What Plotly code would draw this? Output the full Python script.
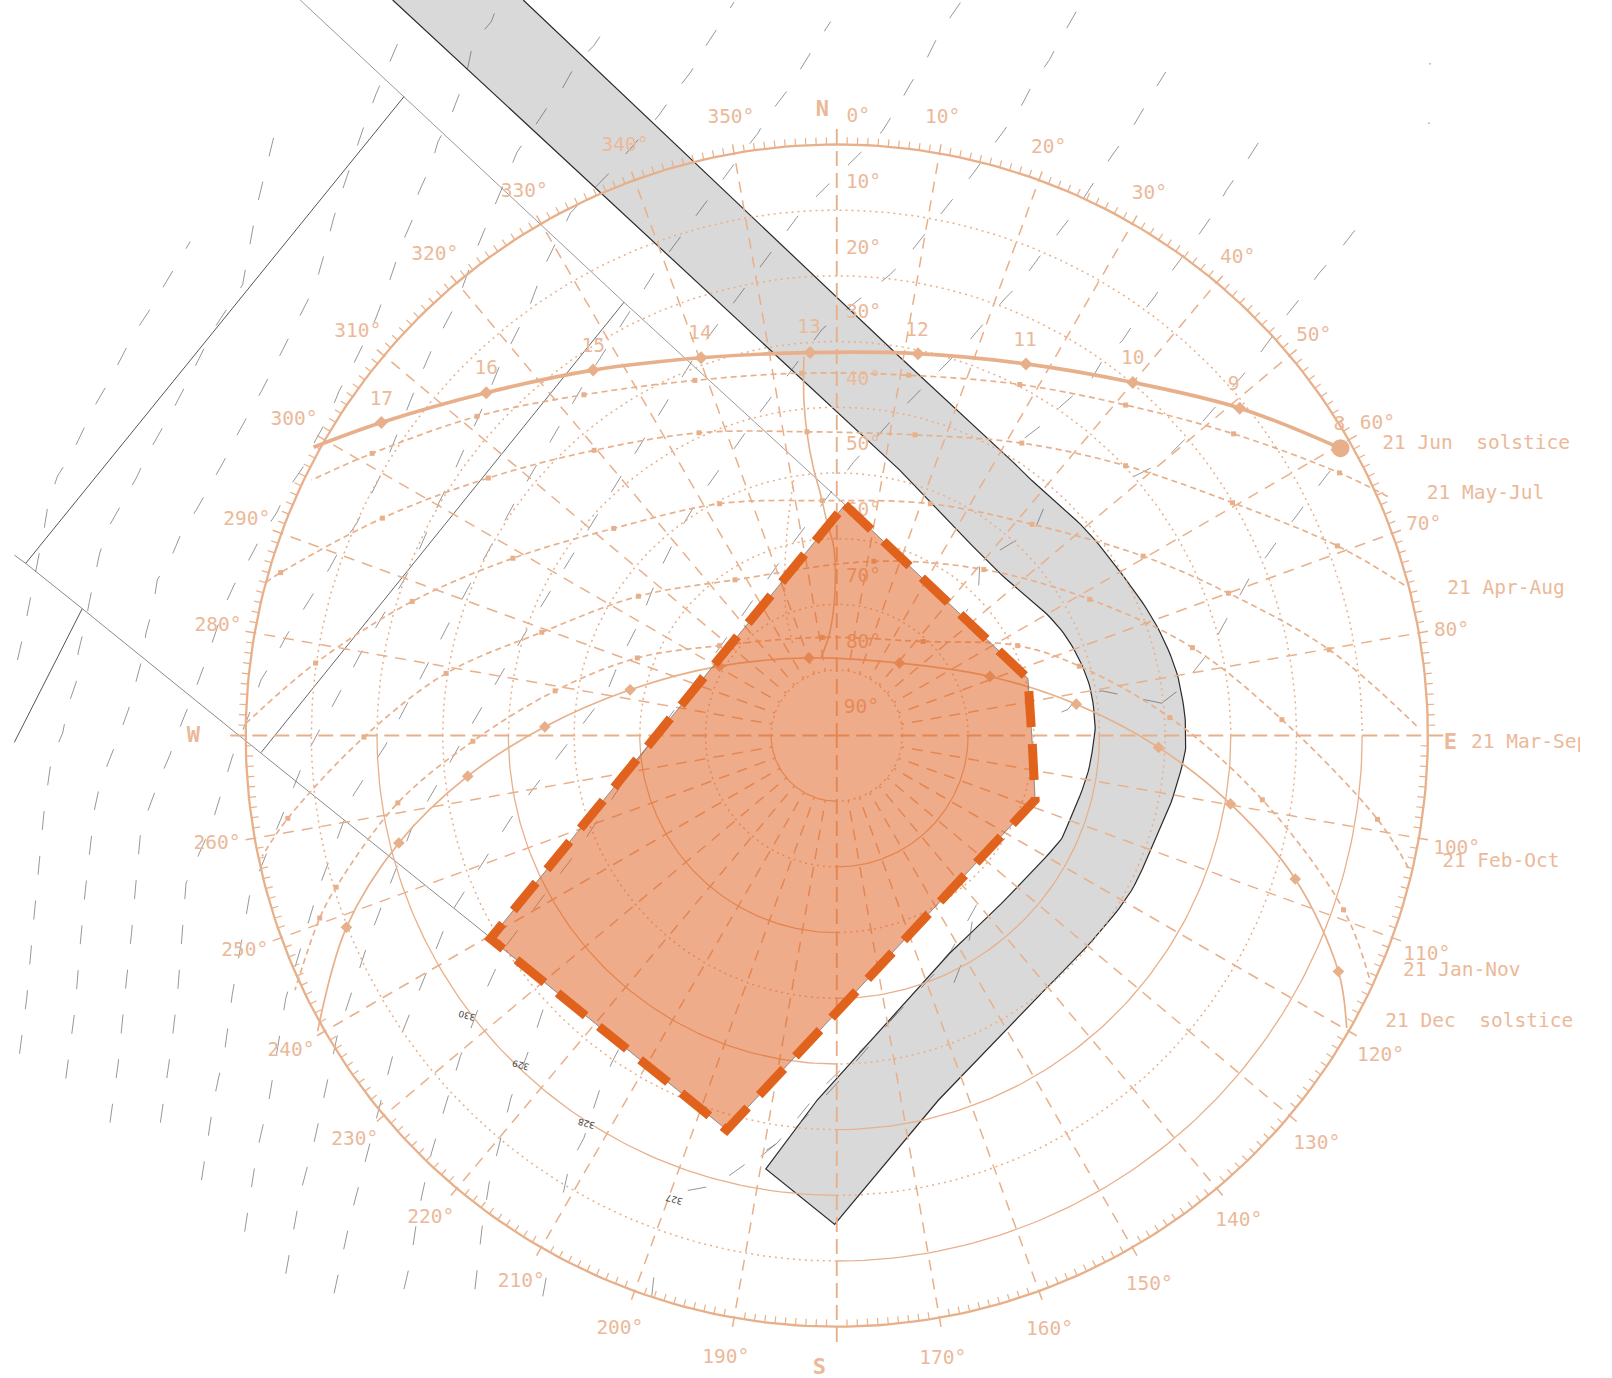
import math
import plotly.graph_objects as go

# ---------- chart frame (plot units: 1 unit = 1.028 px) ----------
CX, CY, R = 814.0, 715.5, 575.0
X_MAX, Y_MAX = 1537.0, 1340.4
GRID = "#E8B08A"
TEXT = "#EBB999"
SHADE = "#D9D9D9"
ORANGE_LINE = "#E0621C"
ORANGE_FILL = "rgba(224,96,30,0.52)"
CONTOUR = "rgba(80,80,80,0.75)"

# ---------- polar grid ----------
AZ_LABELS = [0, 10, 20, 30, 40, 50, 60, 70, 80, 100, 110, 120, 130, 140, 150, 160, 170,
             190, 200, 210, 220, 230, 240, 250, 260, 280, 290, 300, 310, 320, 330, 340, 350]
AZ_LABEL_X = [835, 917, 1020, 1118, 1204, 1278, 1340, 1385, 1412, 1417, 1388, 1343, 1281, 1205, 1118, 1021, 917,
              706, 603, 507, 419, 345, 283, 238, 211, 212, 240, 286, 348, 423, 510, 608, 711]
AZ_LABEL_Y = [114, 115, 144, 189, 251, 327, 413, 511, 614, 826, 929, 1027, 1113, 1188, 1250, 1294, 1322,
              1321, 1293, 1247, 1185, 1109, 1022, 925, 821, 609, 506, 409, 323, 248, 187, 142, 115]
ALT_RINGS = [10, 20, 30, 40, 50, 60, 70, 80]
ALT_LABELS = [10, 20, 30, 40, 50, 60, 70, 80, 90]
ALT_LABEL_X = [840, 840, 840, 840, 840, 840, 840, 840, 838]
ALT_LABEL_Y = [178, 242, 305, 370, 433, 497, 561, 626, 689]
COMPASS = ["N", "E", "S", "W"]
COMPASS_X = [800, 1411, 797, 188]
COMPASS_Y = [107, 723, 1331, 716]

# ---------- sun paths ----------
JUN_X = [1304, 1206, 1102, 998, 893, 788, 682, 577, 473, 371, 305]
JUN_Y = [436, 397, 372, 354, 344, 343, 348, 360, 382, 411, 435]
HOURS = ["8", "9", "10", "11", "12", "13", "14", "15", "16", "17"]
HOUR_X = [1303, 1200, 1102, 997, 892, 787, 681, 577, 473, 371]
HOUR_Y = [414, 375, 349, 332, 322, 319, 325, 338, 359, 389]
MAY_X = [1350, 1303, 1200, 1095, 992, 884, 780, 676, 568, 464, 362, 303]
MAY_Y = [483, 460, 422, 394, 374, 365, 363, 370, 384, 405, 441, 467]
APR_X = [1366, 1301, 1199, 1095, 994, 890, 785, 680, 578, 475, 372, 273, 258]
APR_Y = [569, 531, 489, 453, 431, 423, 420, 421, 438, 465, 504, 557, 567]
MAR_X = [1378, 1293, 1195, 1112, 1004, 905, 800, 700, 597, 499, 401, 307, 240]
MAR_Y = [706, 632, 577, 541, 510, 490, 487, 490, 514, 543, 585, 645, 703]
FEB_X = [1370, 1340, 1247, 1160, 1060, 957, 850, 715, 621, 527, 434, 354, 280, 255]
FEB_Y = [844, 797, 700, 630, 583, 554, 546, 564, 580, 615, 655, 717, 796, 833]
JAN_X = [1332, 1307, 1228, 1138, 1050, 990, 898, 800, 700, 620, 540, 460, 387, 327, 311, 287]
JAN_Y = [951, 885, 778, 698, 648, 628, 624, 620, 628, 640, 672, 721, 781, 863, 893, 963]
DEC_X = [1310, 1302, 1260, 1197, 1127, 1047, 963, 875, 787, 700, 613, 530, 455, 388, 337, 309]
DEC_Y = [1000, 945, 855, 782, 727, 685, 658, 645, 640, 648, 671, 707, 755, 820, 902, 1003]
HOUR_LINE_X = [782, 782, 785, 791, 798, 805, 811, 812, 807, 799]
HOUR_LINE_Y = [347, 389, 421, 454, 480, 510, 532, 580, 616, 639]
HOUR_DOT_X = [772, 765, 764, 772]
HOUR_DOT_Y = [467, 525, 590, 629]
DATES = ["21 Jun  solstice", "21 May-Jul", "21 Apr-Aug", "21 Mar-Sep", "21 Feb-Oct", "21 Jan-Nov", "21 Dec  solstice"]
DATE_X = [1436, 1445, 1465, 1488, 1460, 1422, 1439]
DATE_Y = [432, 481, 573, 723, 839, 945, 994]

# ---------- site: shaded band, orange polygon, outlines ----------
BAND_TOP_X = [382, 875, 945]
BAND_TOP_Y = [0, 457, 530]
BAND_INNER_X = [945, 973, 1018, 1042, 1059, 1065, 1064, 1057, 1038, 1026, 974, 924]
BAND_INNER_Y = [530, 558, 597, 627, 664, 700, 720, 756, 804, 824, 879, 927]
BAND_LOW_X = [924, 795, 745, 812, 821, 913, 1000]
BAND_LOW_Y = [927, 1070, 1137, 1191, 1180, 1070, 979]
BAND_OUTER_X = [1000, 1057, 1097, 1118, 1139, 1152, 1153, 1152, 1143, 1122, 1091, 1056, 1018, 985]
BAND_OUTER_Y = [979, 921, 872, 830, 781, 736, 717, 691, 649, 603, 558, 515, 481, 449]
BAND_END_X = [985, 875, 509]
BAND_END_Y = [449, 347, 0]
POLY_X = [822, 1000, 1004, 1007, 707, 477, 822]
POLY_Y = [491, 660, 720, 778, 1099, 913, 491]
LINE_A_X = [14, 25, 80, 232, 477]
LINE_A_Y = [540, 548, 592, 715, 912]
LINE_B_X = [292, 393, 607, 822]
LINE_B_Y = [0, 94, 294, 491]
LINE_C_X = [393, 25]
LINE_C_Y = [94, 548]
LINE_D_X = [607, 254]
LINE_D_Y = [294, 732]
LINE_E_X = [80, 14]
LINE_E_Y = [592, 722]

# ---------- terrain contours (x list, y list) ----------
C0 = ([17, 23, 28, 33, 38, 43, 47, 56, 70, 82, 92, 106, 118, 130, 144, 158, 185],
      [642, 616, 590, 564, 538, 514, 489, 463, 441, 416, 395, 371, 348, 325, 304, 280, 235])
C1 = ([19, 26, 33, 38, 43, 50, 61, 66, 75, 76, 83, 87, 92, 97, 106, 120, 132, 144, 156, 170, 181, 193, 208, 236, 250, 272],
      [1025, 971, 893, 840, 788, 738, 713, 687, 661, 635, 606, 585, 562, 538, 512, 488, 466, 441, 420, 395, 374, 350, 320, 277, 200, 110])
C2 = ([64, 73, 78, 83, 92, 97, 106, 116, 125, 132, 139, 142, 149, 153, 167, 177, 191, 205, 217, 229, 241, 254, 266, 278, 290, 302, 310, 318, 324, 332, 355, 366, 387],
      [1049, 982, 919, 866, 787, 764, 740, 715, 690, 664, 638, 616, 590, 564, 541, 517, 496, 471, 450, 426, 405, 381, 358, 334, 311, 287, 266, 238, 214, 188, 120, 91, 42])
C3 = ([107, 115, 122, 128, 133, 137, 146, 156, 165, 174, 191, 203, 219, 231, 243, 255, 269, 280, 295, 307, 320, 330, 342, 354, 365, 375, 382, 391, 401, 407, 420, 426, 437, 447, 455, 460, 478, 485],
      [1092, 1034, 963, 907, 850, 807, 783, 756, 735, 710, 668, 635, 588, 562, 543, 520, 499, 476, 454, 428, 405, 380, 358, 334, 311, 285, 263, 237, 214, 188, 159, 138, 117, 91, 66, 42, 21, 2])
C4 = ([156, 167, 173, 181, 205, 226, 243, 254, 266, 280, 295, 307, 321, 334, 347, 370, 400, 410, 420, 434, 445, 453, 462, 472, 483, 493, 503, 518, 532, 547, 560, 578, 593],
      [1092, 1016, 963, 859, 805, 736, 693, 661, 642, 616, 593, 574, 552, 528, 509, 463, 387, 363, 340, 314, 293, 271, 246, 222, 196, 172, 148, 126, 105, 86, 63, 44, 21])
C5 = ([196, 208, 219, 226, 243, 278, 299, 354, 393, 405, 415, 427, 438, 448, 467, 486, 514, 530, 555, 591, 608, 626, 641, 658, 672, 685, 701, 714],
      [1148, 1070, 1019, 967, 870, 785, 732, 630, 564, 541, 518, 489, 467, 445, 402, 356, 301, 258, 207, 170, 151, 130, 112, 88, 70, 47, 23, 2])
C6 = ([238, 250, 262, 278, 309, 344, 375, 440, 500, 570, 640, 722, 737, 749, 766, 780, 793, 808],
      [1198, 1120, 1068, 971, 867, 773, 725, 600, 490, 370, 260, 149, 130, 110, 88, 65, 44, 21])
C7 = ([278, 292, 306, 328, 361, 400, 450, 520, 600, 680, 780, 858, 873, 886, 901, 912, 925, 936],
      [1239, 1161, 1109, 1008, 908, 807, 720, 600, 470, 340, 205, 128, 104, 81, 58, 36, 16, 0])
C8 = ([325, 342, 356, 382, 438, 497, 528, 590, 603, 623, 645, 661, 681, 740, 800, 866, 882, 913, 932, 948, 964, 976, 993, 1005, 1021, 1031, 1050],
      [1258, 1180, 1127, 1027, 889, 796, 755, 674, 642, 603, 548, 516, 483, 400, 320, 267, 250, 211, 188, 167, 144, 128, 104, 81, 58, 39, 6])
C9 = ([393, 400, 406, 419, 431, 448, 469, 493, 560, 620, 700, 770, 830, 880, 943, 957, 978, 992, 1011, 1023, 1044, 1071, 1084, 1101, 1113, 1124, 1134],
      [1254, 1224, 1183, 1124, 1083, 1027, 971, 919, 830, 740, 630, 530, 450, 395, 331, 315, 290, 276, 250, 235, 208, 167, 148, 125, 104, 86, 70])
C10 = ([462, 469, 476, 483, 497, 521, 532],
       [1254, 1194, 1150, 1124, 1068, 1004, 971])
C11 = ([528, 532], [1261, 1239])
C12 = ([548, 554, 568, 584, 596, 610], [1160, 1133, 1107, 1058, 1032, 1005])
C13 = ([634, 637], [1261, 1233])
C14 = ([669, 696, 727, 756, 800, 855, 925], [1158, 1153, 1131, 1112, 1058, 1005, 930])
C15 = ([740, 775, 814, 853, 875, 925, 950], [1125, 1096, 1054, 1009, 982, 925, 880])
C16 = ([928, 937, 943, 946], [956, 933, 914, 895])
C17 = ([1224, 1210, 1193, 1183, 1165, 1153, 1136, 1123, 1104, 1092, 1071, 1061, 1032, 1018, 985],
      [139, 161, 185, 204, 230, 246, 269, 289, 313, 331, 353, 370, 395, 410, 435])
C18 = ([1318, 1304, 1283, 1269, 1252, 1240, 1221, 1209, 1170, 1130, 1090],
      [224, 242, 266, 285, 306, 324, 350, 365, 410, 450, 470])
C19 = ([1294, 1280, 1261, 1247, 1232, 1216, 1174, 1157, 1147, 1130],
      [458, 476, 502, 520, 541, 561, 637, 658, 671, 684])
C20 = ([1130, 1091, 1072, 1049, 1039, 1015], [684, 676, 672, 677, 690, 700])
C21 = ([1015, 1005, 986, 968, 953, 952, 940], [495, 519, 527, 538, 551, 571, 595])
CONTOURS = [C0, C1, C2, C3, C4, C5, C6, C7, C8, C9, C10, C11, C12, C13, C14, C15, C16, C17, C18, C19, C20, C21]
CONTOUR_LABELS = ["330", "329", "328", "327"]
CONTOUR_LABEL_X = [454, 507, 570, 656]
CONTOUR_LABEL_Y = [988, 1036, 1093, 1167]
SPECK_X = [1391, 1390]
SPECK_Y = [62, 120]


def pol(az, alt):
    r = R * (90 - alt) / 90.0
    a = math.radians(az)
    return CX + r * math.sin(a), CY - r * math.cos(a)


def arc(alt, a0, a1):
    xs, ys = [], []
    for a in range(a0, a1 + 1):
        x, y = pol(a, alt)
        xs.append(x)
        ys.append(y)
    return xs, ys


def rounded(xs, ys, steps=8):
    """Rounds a read-off outline so the band edge draws as a curve."""
    ox, oy = [], []
    n = len(xs)
    for i in range(n - 1):
        x0, y0 = (xs[i - 1], ys[i - 1]) if i else (xs[i], ys[i])
        x3, y3 = (xs[i + 2], ys[i + 2]) if i + 2 < n else (xs[i + 1], ys[i + 1])
        x1, y1, x2, y2 = xs[i], ys[i], xs[i + 1], ys[i + 1]
        for k in range(steps):
            t = k / steps
            c = lambda a, b, d, e: 0.5 * (2 * b + (d - a) * t + (2 * a - 5 * b + 4 * d - e) * t * t + (3 * b - a - 3 * d + e) * t ** 3)
            ox.append(c(x0, x1, x2, x3))
            oy.append(c(y0, y1, y2, y3))
    ox.append(xs[-1])
    oy.append(ys[-1])
    return ox, oy


fig = go.Figure()


def line(x, y, color=GRID, width=1.3, dash="solid", shape="linear", fill=None, fillcolor=None, mode="lines"):
    fig.add_trace(go.Scatter(x=x, y=y, mode=mode, fill=fill, fillcolor=fillcolor,
                             line=dict(color=color, width=width, dash=dash, shape=shape),
                             hoverinfo="skip"))


# shaded band + thin outlines + contours sit at the bottom
inner_x, inner_y = rounded(BAND_INNER_X, BAND_INNER_Y)
outer_x, outer_y = rounded(BAND_OUTER_X, BAND_OUTER_Y)
band_x = BAND_TOP_X[:-1] + inner_x + BAND_LOW_X[1:-1] + outer_x + BAND_END_X[1:]
band_y = BAND_TOP_Y[:-1] + inner_y + BAND_LOW_Y[1:-1] + outer_y + BAND_END_Y[1:]
line(band_x, band_y, color="#2a2a2a", width=1.2, fill="toself", fillcolor=SHADE)
for lx, ly, col in [(LINE_A_X, LINE_A_Y, "#8a8a8a"), (LINE_B_X, LINE_B_Y, "#9a9a9a"),
                    (LINE_C_X, LINE_C_Y, "#555555"), (LINE_D_X, LINE_D_Y, "#666666"),
                    (LINE_E_X, LINE_E_Y, "#555555")]:
    line(lx, ly, color=col, width=1.0)
for cx, cy in CONTOURS:
    line(cx, cy, color=CONTOUR, width=0.8, dash="19px,26px")
fig.add_trace(go.Scatter(x=SPECK_X, y=SPECK_Y, mode="markers", marker=dict(size=2, color=GRID), hoverinfo="skip"))

# altitude rings: upper half always dotted; lower quadrants alternate solid and dotted
DOT = "2px,4px"
for alt in ALT_RINGS:
    odd = (alt // 10) % 2 == 1
    x, y = arc(alt, -90, 90)
    line(x, y, dash=DOT, width=1.5)
    x, y = arc(alt, 90, 180)
    line(x, y, dash="solid" if odd else DOT, width=1.3 if odd else 1.5)
    x, y = arc(alt, 180, 270)
    line(x, y, dash=DOT if odd else "solid", width=1.5 if odd else 1.3)

# horizon circle
x, y = arc(0, 0, 360)
line(x, y, width=2.3)

# ticks each degree; top half outward, bottom half inward, long at every ten
tx, ty = [], []
for a in range(0, 360):
    south = 90 < a < 270
    if a % 10 == 0:
        continue
    o = 0 if south else 7
    i = 7 if south else 0
    p = math.radians(a)
    tx += [CX + (R + o) * math.sin(p), CX + (R - i) * math.sin(p), None]
    ty += [CY - (R + o) * math.cos(p), CY - (R - i) * math.cos(p), None]
line(tx, ty, width=1.2)

# radial lines every ten degrees
for a in range(0, 360, 10):
    p = math.radians(a)
    if a % 90 == 0:
        rx = [CX + 590 * math.sin(p), CX]
        ry = [CY - 590 * math.cos(p), CY]
        line(rx, ry, width=1.9, dash="15px,7px")
    else:
        rx = [CX + (R + 9) * math.sin(p), CX + 64 * math.sin(p)]
        ry = [CY - (R + 9) * math.cos(p), CY - 64 * math.cos(p)]
        line(rx, ry, width=1.5, dash="11px,8px")

# sun paths
for px, py, w, d in [(MAY_X, MAY_Y, 1.7, "6px,4px"), (APR_X, APR_Y, 1.7, "6px,4px"),
                     (MAR_X, MAR_Y, 1.7, "6px,4px"), (FEB_X, FEB_Y, 1.7, "6px,4px"),
                     (JAN_X, JAN_Y, 1.7, "6px,4px"), (DEC_X, DEC_Y, 1.7, "solid"), (JUN_X, JUN_Y, 3.7, "solid")]:
    line(px, py, width=w, dash=d, shape="spline")
    size = 10 if w > 3 else (9 if d == "solid" else 5)
    sym = "diamond" if d == "solid" else "square"
    fig.add_trace(go.Scatter(x=px[1:-1], y=py[1:-1], mode="markers", hoverinfo="skip",
                             marker=dict(size=size, color=GRID, symbol=sym)))
fig.add_trace(go.Scatter(x=JUN_X[:1], y=JUN_Y[:1], mode="markers", hoverinfo="skip",
                         marker=dict(size=18, color=GRID, symbol="circle")))
line(HOUR_LINE_X, HOUR_LINE_Y, width=1.6, shape="spline")
line(HOUR_DOT_X, HOUR_DOT_Y, width=1.5, dash=DOT, shape="spline")


def texts(x, y, t, size=19.5, weight="normal"):
    fig.add_trace(go.Scatter(x=x, y=y, text=t, mode="text", textposition="middle center", hoverinfo="skip",
                             textfont=dict(family="DejaVu Sans Mono", size=size, color=TEXT, weight=weight)))


texts(AZ_LABEL_X, AZ_LABEL_Y, [f"{v}°" for v in AZ_LABELS])
texts(ALT_LABEL_X, ALT_LABEL_Y, [f"{v}°" for v in ALT_LABELS])
texts(HOUR_X, HOUR_Y, HOURS)
texts(DATE_X, DATE_Y, DATES)
texts(COMPASS_X, COMPASS_Y, COMPASS, size=22, weight="bold")

# orange polygon on top
line(POLY_X, POLY_Y, width=0, fill="toself", fillcolor=ORANGE_FILL)
line(POLY_X, POLY_Y, color="#777777", width=0.8)
line(POLY_X, POLY_Y, color=ORANGE_LINE, width=9, dash="36px,17px")

annotations = [dict(x=ax, y=ay, xref="x", yref="y", text=t, showarrow=False, textangle=195,
                    font=dict(family="DejaVu Sans", size=9, color="#444444"))
               for ax, ay, t in zip(CONTOUR_LABEL_X, CONTOUR_LABEL_Y, CONTOUR_LABELS)]

fig.update_layout(
    width=1612, height=1378, margin=dict(l=0, r=32, t=0, b=0),
    paper_bgcolor="white", plot_bgcolor="white", showlegend=False, hovermode=False,
    xaxis=dict(range=[0, X_MAX], visible=False, fixedrange=True),
    yaxis=dict(range=[Y_MAX, 0], visible=False, fixedrange=True),
    annotations=annotations,
)
fig.write_html("out.html", post_script="document.body.style.margin='0';",
               config=dict(displayModeBar=False))
